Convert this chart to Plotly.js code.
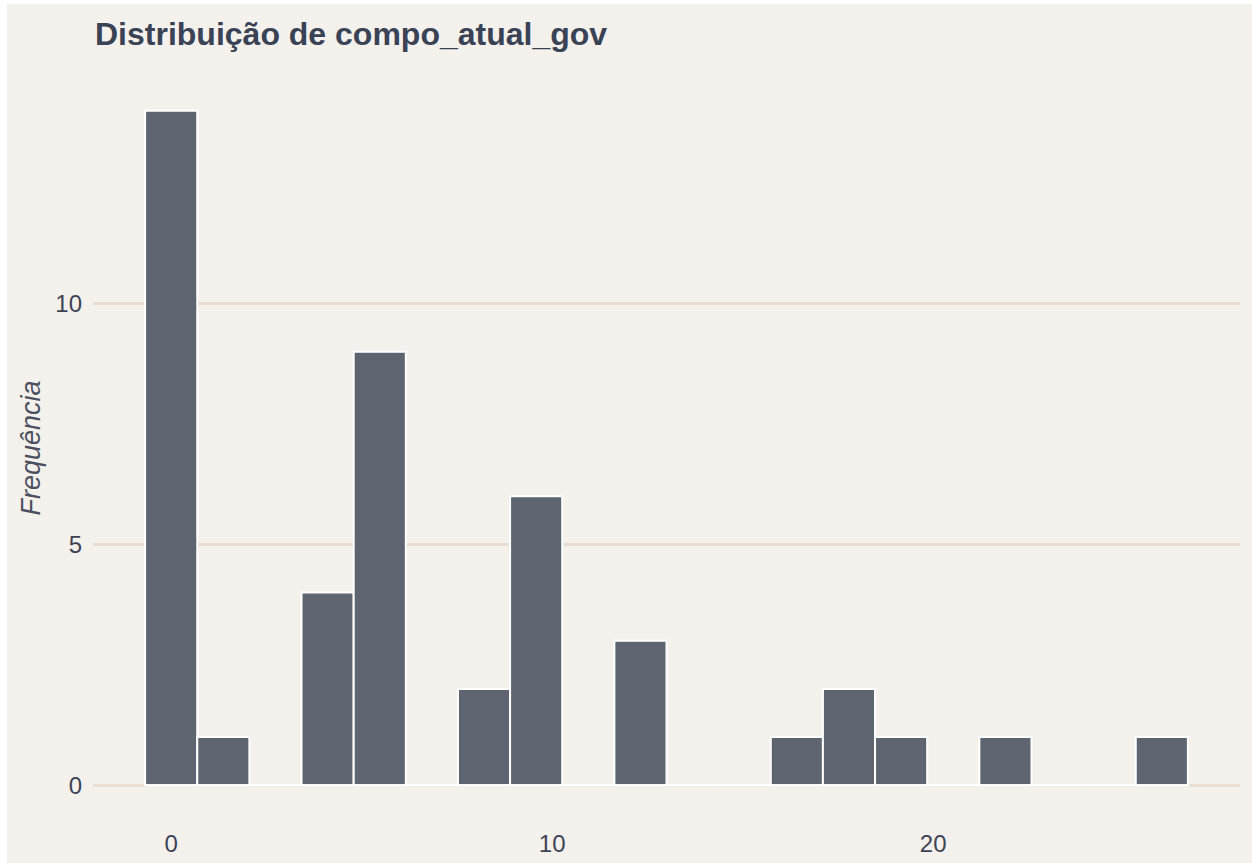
<!DOCTYPE html>
<html>
<head>
<meta charset="utf-8">
<script src="https://cdn.plot.ly/plotly-3.0.1.min.js"></script>
<style>
  html, body { margin: 0; padding: 0; background: #ffffff; width: 1252px; height: 863px; overflow: hidden; }
  #chart { position: absolute; left: 7px; top: 4px; width: 1245px; height: 859px; }
</style>
</head>
<body>
<div id="chart"></div>
<script>
// Histogram bins of compo_atual_gov (20 bins, width 26/19)
const binCenters = [0, 1.368, 2.737, 4.105, 5.474, 6.842, 8.211, 9.579, 10.947, 12.316,
                    13.684, 15.053, 16.421, 17.789, 19.158, 20.526, 21.895, 23.263, 24.632, 26.0];
const binWidth = 1.368;
const counts = [14, 1, 0, 4, 9, 0, 2, 6, 0, 3,
                0, 0, 1, 2, 1, 0, 1, 0, 0, 1];
const xTicks = [0, 10, 20];
const xTickLabels = ['0', '10', '20'];
const yTicks = [0, 5, 10];
const yTickLabels = ['0', '5', '10'];
const titleText = 'Distribuição de compo_atual_gov';
const yTitleText = 'Frequência';

const firstEdge = binCenters[0] - binWidth / 2;
const lastEdge = binCenters[binCenters.length - 1] + binWidth / 2;

const baseLine = {
  type: 'scatter', mode: 'lines',
  x: [firstEdge, lastEdge], y: [0, 0],
  line: { color: '#ffffff', width: 2 },
  hoverinfo: 'skip', showlegend: false
};

const bars = {
  type: 'bar',
  x: binCenters,
  y: counts,
  width: binCenters.map(() => binWidth),
  marker: { color: 'rgb(94,100,112)', line: { color: '#ffffff', width: 2 } },
  showlegend: false
};

const layout = {
  width: 1245, height: 859,
  paper_bgcolor: '#F4F1EC',
  plot_bgcolor: '#F4F1EC',
  margin: { l: 86, r: 12, t: 73, b: 44 },
  font: { family: '"Liberation Sans", Arial, sans-serif', color: '#3D4354' },
  title: {
    text: '<b>' + titleText + '</b>',
    font: { size: 32, color: '#3A4256', family: '"Liberation Sans", Arial, sans-serif' },
    xref: 'container', x: 88 / 1245, xanchor: 'left',
    yref: 'container', y: 1 - 19 / 859, yanchor: 'top'
  },
  bargap: 0,
  xaxis: {
    range: [-2.052, 28.052],
    tickvals: xTicks, ticktext: xTickLabels,
    showgrid: false, zeroline: false, showline: false,
    ticks: '', ticklabelstandoff: 8,
    tickfont: { size: 24, color: '#3D4354' }
  },
  yaxis: {
    range: [-0.7, 14.7],
    tickvals: yTicks, ticktext: yTickLabels,
    showgrid: true, gridcolor: '#E8DFD2', gridwidth: 2.5,
    zeroline: false, showline: false,
    ticks: '', ticklabelstandoff: 10,
    tickfont: { size: 24, color: '#3D4354' },
    title: {
      text: '<i>' + yTitleText + '</i>',
      font: { size: 27, color: '#4A5060' },
      standoff: 6
    }
  }
};

Plotly.newPlot('chart', [baseLine, bars], layout, { displayModeBar: false, staticPlot: true });
</script>
</body>
</html>
